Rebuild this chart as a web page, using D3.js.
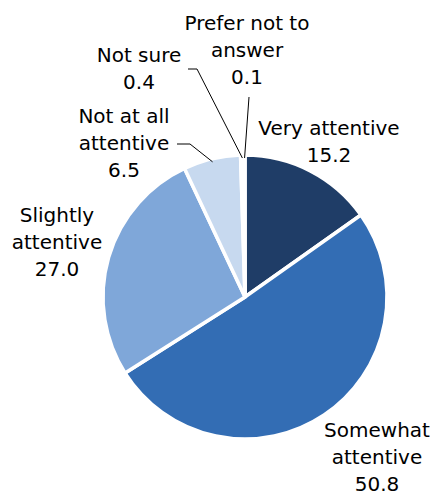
<!DOCTYPE html>
<meta charset="utf-8">
<script src="https://d3js.org/d3.v7.min.js"></script>
<style>
body { margin: 0; background: #fff; }
text {
  font-family: "DejaVu Sans", Verdana, sans-serif;
  font-size: 20px;
  fill: #000;
}
.slice { stroke: #fff; stroke-width: 3.5; }
.leader { fill: none; stroke: #000; stroke-width: 1; }
</style>
<body></body>
<script>

// DATA
const categories = ["Very attentive", "Somewhat attentive", "Slightly attentive",
                    "Not at all attentive", "Not sure", "Prefer not to answer"];
const values = [15.2, 50.8, 27.0, 6.5, 0.4, 0.1];
const colors = ["#1f3d67", "#336db4", "#7fa7d9", "#c7d9ef", "#a0a0a0", "#4a4a4a"];

// label lines per category (text broken as in the original)
const labelLines = [
  ["Very attentive"],
  ["Somewhat", "attentive"],
  ["Slightly", "attentive"],
  ["Not at all", "attentive"],
  ["Not sure"],
  ["Prefer not to", "answer"]
];

const width = 434;
const height = 496;
const cx = 245;
const cy = 297;
const radius = 142;
const lineHeight = 27;

// label layout: centre x and first baseline y, plus leader elbow (null = no leader)
const labelPos = [
  {x: 329, y: 135, elbow: null},
  {x: 377, y: 437, elbow: null},
  {x: 57,  y: 222, elbow: null},
  {x: 124, y: 123, elbow: [[190, 144], [177, 144]]},
  {x: 139, y: 62,  elbow: [[197, 69], [188, 69]]},
  {x: 247, y: 30,  elbow: [[249, 97]]}
];

const svg = d3.select("body").append("svg")
  .attr("width", width)
  .attr("height", height);

const g = svg.append("g")
  .attr("transform", `translate(${cx},${cy})`);

const pie = d3.pie().sort(null).value(d => d);
const arcs = pie(values);

const arc = d3.arc().innerRadius(0).outerRadius(radius);

g.selectAll("path.slice")
  .data(arcs)
  .join("path")
  .attr("class", "slice")
  .attr("d", arc)
  .attr("fill", (d, i) => colors[i]);

// LEADER LINES
const edge = d3.arc().innerRadius(radius - 3).outerRadius(radius - 3);
arcs.forEach((d, i) => {
  const pos = labelPos[i];
  if (!pos.elbow) return;
  const c = edge.centroid(d);
  const pts = [[cx + c[0], cy + c[1]]].concat(pos.elbow);
  svg.append("path")
    .attr("class", "leader")
    .attr("d", d3.line()(pts));
});

// LABELS
labelPos.forEach((pos, i) => {
  const lines = labelLines[i].concat([d3.format(".1f")(values[i])]);
  const t = svg.append("text")
    .attr("text-anchor", "middle")
    .attr("x", pos.x)
    .attr("y", pos.y);
  lines.forEach((s, j) => {
    t.append("tspan")
      .attr("x", pos.x)
      .attr("dy", j === 0 ? 0 : lineHeight)
      .text(s);
  });
});

</script>
